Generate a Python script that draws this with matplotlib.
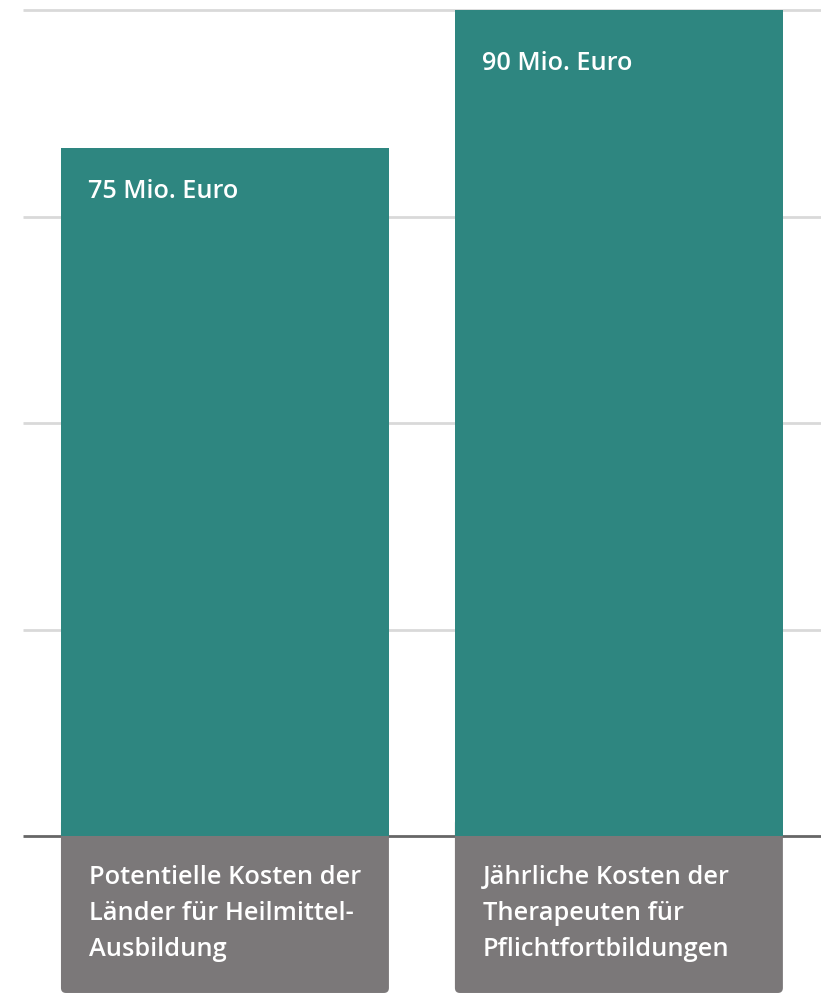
import matplotlib
matplotlib.use("Agg")
import matplotlib.pyplot as plt
from matplotlib.patches import FancyBboxPatch

# data
categories = ["Potentielle Kosten der\nLänder für Heilmittel-\nAusbildung",
              "Jährliche Kosten der\nTherapeuten für\nPflichtfortbildungen"]
values = [75, 90]
value_labels = ["75 Mio. Euro", "90 Mio. Euro"]
grid_values = [22.5, 45, 67.5, 90]

teal = "#2e8680"
grey = "#7b7879"
font = "Open Sans"

fig = plt.figure(figsize=(8.21, 9.96), dpi=100)
ax = fig.add_axes([0, 0, 1, 1])
ax.set_xlim(-0.571, 1.513)
ax.set_ylim(-17.43, 91.09)
ax.axis("off")

width = 0.8325
xs = list(range(len(values)))

ax.hlines(grid_values, -0.513, 1.6, colors="#d9d9d9", lw=2, zorder=0)
ax.hlines(0, -0.513, 1.6, colors="#666666", lw=2, zorder=0)

ax.bar(xs, values, width=width, color=teal, zorder=3)

# grey label boxes below the baseline, rounded at the bottom
for x, cat in zip(xs, categories):
    x0 = x - width / 2
    box = FancyBboxPatch((x0, -17.1), width, 19.1,
                         boxstyle="round,pad=0,rounding_size=0.0127",
                         mutation_aspect=42.9, fc=grey, ec="none", zorder=2)
    ax.add_patch(box)
    ax.annotate(cat, xy=(x0, 0), xytext=(28, -29), textcoords="offset pixels",
                ha="left", va="top", color="white", fontsize=18.3,
                fontfamily=font, fontweight="semibold", linespacing=1.57, zorder=5)

offsets = [-50, -60]
for x, v, lab, off in zip(xs, values, value_labels, offsets):
    ax.annotate(lab, xy=(x - width / 2, v), xytext=(27, off), textcoords="offset pixels",
                ha="left", va="baseline", color="white", fontsize=18.2,
                fontfamily=font, fontweight="semibold", zorder=5)

fig.savefig("out.png", dpi=100)
